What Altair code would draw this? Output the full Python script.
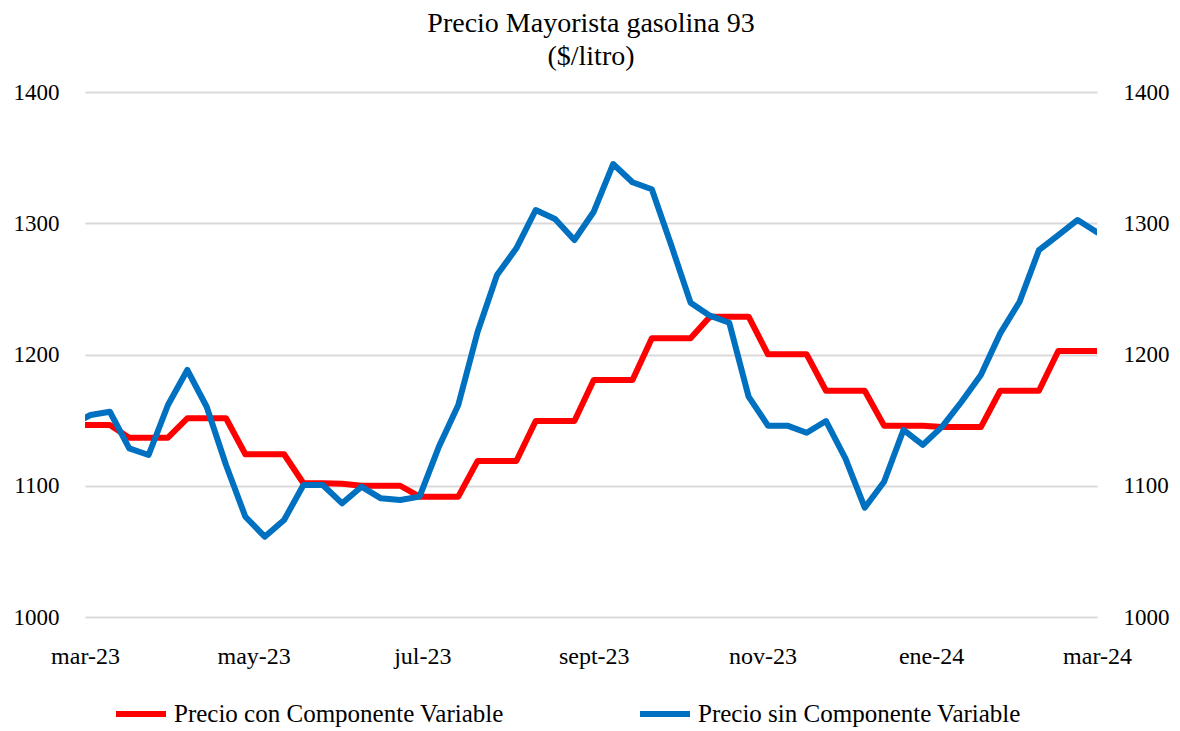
import altair as alt
import pandas as pd

# Weekly dates: one clipped point before the axis start, then 53 weekly points
fechas = [d.strftime("%Y-%m-%dT00:00:00") for d in pd.date_range("2023-02-24", periods=54, freq="7D")]

con_componente = [
    1146.3, 1146.3, 1146.3, 1136.6, 1136.6, 1136.6, 1151.4, 1151.4, 1151.4,
    1124.0, 1124.0, 1124.0, 1101.9, 1101.9, 1101.5, 1100.0, 1100.0, 1100.0,
    1091.7, 1091.7, 1091.7, 1118.9, 1118.9, 1118.9, 1149.3, 1149.3, 1149.3,
    1180.6, 1180.6, 1180.6, 1212.3, 1212.3, 1212.3, 1228.8, 1228.8, 1228.8,
    1200.1, 1200.1, 1200.1, 1172.4, 1172.4, 1172.4, 1145.8, 1145.8, 1145.8,
    1144.7, 1144.7, 1144.7, 1172.4, 1172.4, 1172.4, 1202.7, 1202.7, 1202.7,
]

sin_componente = [
    1146.0, 1153.9, 1156.4, 1128.5, 1123.4, 1161.5, 1188.2, 1160.2, 1115.8,
    1076.4, 1061.2, 1073.9, 1100.6, 1100.6, 1086.6, 1099.3, 1090.4, 1089.1,
    1091.7, 1129.8, 1161.5, 1217.4, 1260.6, 1280.9, 1310.1, 1303.2, 1287.2,
    1308.8, 1345.1, 1331.2, 1325.9, 1283.4, 1239.5, 1229.6, 1224.2, 1167.9,
    1145.8, 1145.8, 1140.4, 1149.3, 1120.9, 1083.3, 1103.1, 1142.5, 1131.1,
    1145.0, 1164.0, 1184.4, 1216.1, 1240.2, 1279.6, 1291.0, 1302.5, 1293.1,
]

serie_con = "Precio con Componente Variable"
serie_sin = "Precio sin Componente Variable"
series = [serie_con, serie_sin]
colores = ["#FF0000", "#0070C0"]

x_ticks = ["2023-03-01T00:00:00", "2023-05-01T00:00:00", "2023-07-01T00:00:00",
           "2023-09-01T00:00:00", "2023-11-01T00:00:00", "2024-01-01T00:00:00",
           "2024-03-01T00:00:00"]
y_ticks = [1000, 1100, 1200, 1300, 1400]

df = pd.DataFrame({
    "fecha": fechas * 2,
    "serie": [serie_con] * len(fechas) + [serie_sin] * len(fechas),
    "valor": con_componente + sin_componente,
})

FONT = "Liberation Serif"

x_enc = alt.X(
    "fecha:T",
    scale=alt.Scale(domain=["2023-03-01T00:00:00", "2024-03-01T00:00:00"]),
    axis=alt.Axis(
        title=None, values=x_ticks, grid=False, domain=False, ticks=False,
        labelFlush=False, labelOverlap=False, labelPadding=27, labelFontSize=24,
        labelExpr="['ene','feb','mar','abr','may','jun','jul','ago','sept','oct','nov','dic'][month(datum.value)] + '-' + timeFormat(datum.value, '%y')",
    ),
)

color_enc = alt.Color(
    "serie:N",
    scale=alt.Scale(domain=series, range=colores),
    legend=alt.Legend(
        title=None, orient="none", legendX=28, legendY=594, direction="horizontal",
        symbolType="stroke", symbolStrokeWidth=6, symbolSize=2500,
        labelFont=FONT, labelFontSize=25, labelColor="#000000", labelOffset=5,
        labelLimit=0, columnPadding=124,
    ),
)

ydom = alt.Scale(domain=[1000, 1400])

left = alt.Chart(df).transform_filter(alt.datum.serie == serie_con).mark_line(
    strokeWidth=6, clip=True, strokeCap="round", strokeJoin="round"
).encode(
    x=x_enc,
    y=alt.Y("valor:Q", scale=ydom, axis=alt.Axis(
        title=None, values=y_ticks, format="d", domain=False, ticks=False, grid=True,
        gridColor="#D9D9D9", gridWidth=2, labelPadding=26, orient="left")),
    color=color_enc,
)

right = alt.Chart(df).transform_filter(alt.datum.serie == serie_sin).mark_line(
    strokeWidth=6, clip=True, strokeCap="round", strokeJoin="round"
).encode(
    x=x_enc,
    y=alt.Y("valor:Q", scale=ydom, axis=alt.Axis(
        title=None, values=y_ticks, format="d", domain=False, ticks=False, grid=False,
        labelPadding=26, orient="right")),
    color=color_enc,
)

chart = alt.layer(left, right).resolve_scale(y="independent").properties(
    width=1012,
    height=525,
    autosize=alt.AutoSizeParams(type="none"),
    padding={"left": 77, "top": 84, "right": 75, "bottom": 114},
    title=alt.TitleParams(
        text=["Precio Mayorista gasolina 93", "($/litro)"],
        font=FONT, fontSize=28, fontWeight="normal", color="#000000",
        anchor="middle", lineHeight=33, offset=10,
    ),
).configure_view(stroke=None).configure_axis(
    labelFont=FONT, labelFontSize=23, labelColor="#000000",
)

chart.save("out.html", embed_options={"renderer": "svg", "actions": False})
